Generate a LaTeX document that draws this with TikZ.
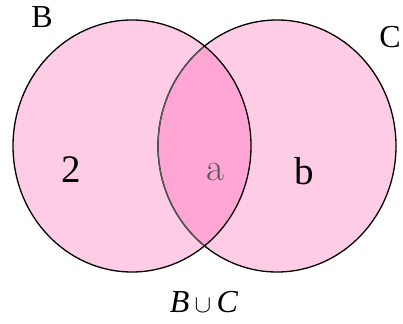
\documentclass[tikz,border=0pt]{standalone}
\usepackage{fontspec}
\setmainfont{Liberation Serif}
\usepackage{tikz}

\definecolor{setpink}{RGB}{255,204,230}
\definecolor{lenspink}{RGB}{255,166,212}

\begin{document}
\begin{tikzpicture}[x=1pt,y=1pt,
    setfill/.style={fill=setpink},
    rim/.style={draw=black,line width=1.3pt},
    lbl/.style={inner sep=0pt,font=\fontsize{32}{34}\selectfont},
    elt/.style={inner sep=0pt,font=\fontsize{39}{41}\selectfont}]
    \useasboundingbox (0,0) rectangle (403,323);
    \coordinate (cB) at (132,177);
    \coordinate (cC) at (277,177);

    \fill[setfill] (cB) ellipse [x radius=119,y radius=126];
    \fill[setfill] (cC) ellipse [x radius=119,y radius=126];
    \begin{scope}
      \clip (cB) ellipse [x radius=119,y radius=126];
      \fill[lenspink] (cC) ellipse [x radius=119,y radius=126];
    \end{scope}
    \draw[rim] (cC) ellipse [x radius=119,y radius=126];
    \begin{scope}
      \clip (cB) ellipse [x radius=119,y radius=126];
      \draw[rim,draw=black!65] (cC) ellipse [x radius=119,y radius=126];
    \end{scope}
    \draw[rim] (cB) ellipse [x radius=119,y radius=126];

    \node[lbl] (nB) at (42,306) {B};
    \node[lbl] (nC) at (390,286) {C};
    \node[elt] (n2) at (71,153) {2};
    \node[elt,text=black!65] (na) at (215,151) {\fontfamily{lmr}\selectfont a};
    \node[elt] (nb) at (304,152) {b};
    \node[lbl] (nU) at (204,21) {\textit{B}\,$\cup$\,\textit{C}};
\end{tikzpicture}
\end{document}
